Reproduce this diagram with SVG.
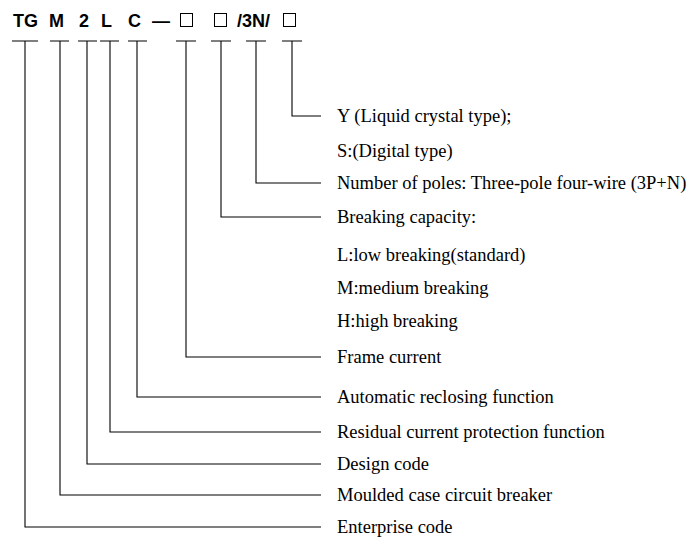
<svg xmlns="http://www.w3.org/2000/svg" width="692" height="543" viewBox="0 0 692 543">
<style>
.h{font-family:"Liberation Sans",Arial,sans-serif;font-weight:bold;font-size:18px;fill:#000}
.bx{fill:none;stroke:#000;stroke-width:1}
.t{font-family:"Liberation Serif","Times New Roman",serif;font-size:18.5px;fill:#000}
.ln{fill:none;stroke:#000;stroke-width:1.1}
</style>
<rect width="692" height="543" fill="#fff"/>
<g id="code">
<text class="h" x="13" y="27">TG</text>
<text class="h" x="49" y="27">M</text>
<text class="h" x="79" y="27">2</text>
<text class="h" x="101" y="27">L</text>
<text class="h" x="128" y="27">C</text>
<text class="h" x="152" y="27">—</text>
<rect class="bx" x="180.5" y="13.5" width="12" height="13"/>
<rect class="bx" x="214.5" y="13.5" width="12" height="13"/>
<text class="h" x="237" y="27">/3N/</text>
<rect class="bx" x="283.5" y="13.5" width="12" height="13"/>
</g>
<g id="connectors" class="ln">
<path d="M12 41H38M25 41V527H321"/>
<path d="M50 41H69M60 41V495H321"/>
<path d="M78 41H97M87 41V464H321"/>
<path d="M100 41H119M110 41V432H321"/>
<path d="M128 41H147M137 41V397H321"/>
<path d="M176 41H196M186 41V357H321"/>
<path d="M211 41H231M221 41V217H321"/>
<path d="M246 41H266M256 41V183H321"/>
<path d="M282 41H302M292 41V116H321"/>
</g>
<g id="labels">
<text class="t" x="337" y="122">Y (Liquid crystal type);</text>
<text class="t" x="337" y="157">S:(Digital type)</text>
<text class="t" x="337" y="189">Number of poles: Three-pole four-wire (3P+N)</text>
<text class="t" x="337" y="223">Breaking capacity:</text>
<text class="t" x="337" y="261">L:low breaking(standard)</text>
<text class="t" x="337" y="294">M:medium breaking</text>
<text class="t" x="337" y="327">H:high breaking</text>
<text class="t" x="337" y="363">Frame current</text>
<text class="t" x="337" y="403">Automatic reclosing function</text>
<text class="t" x="337" y="438">Residual current protection function</text>
<text class="t" x="337" y="470">Design code</text>
<text class="t" x="337" y="501">Moulded case circuit breaker</text>
<text class="t" x="337" y="533">Enterprise code</text>
</g>
</svg>
